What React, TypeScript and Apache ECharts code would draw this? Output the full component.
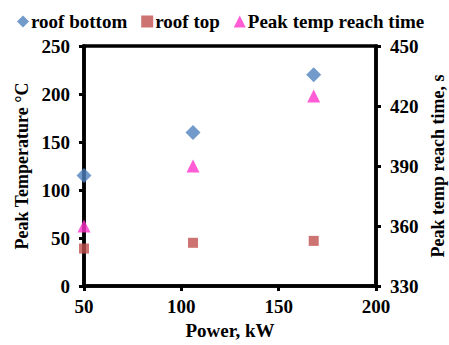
import React, { useEffect, useRef } from "react";
import * as echarts from "echarts";

const power = [50, 106, 168];
const roofBottom = [115, 160, 220];
const roofTop = [39, 45, 47];
const reachTime = [360, 390, 425];

const FONT = "'Liberation Serif', 'Times New Roman', serif";

export default function App() {
  const ref = useRef<HTMLDivElement>(null);
  useEffect(() => {
    const chart = echarts.init(ref.current!, null, { renderer: "svg" });
    const axisLabel = { color: "#000", fontFamily: FONT, fontWeight: "bold", fontSize: 19 };
    const nameStyle = { color: "#000", fontFamily: FONT, fontWeight: "bold", fontSize: 18 };
    const axisLine = { show: true, lineStyle: { color: "#000", width: 3.5 } };
    const axisTick = { show: true, inside: false, length: 5, lineStyle: { color: "#000", width: 3 } };
    chart.setOption({
      animation: false,
      backgroundColor: "#fff",
      grid: {
        left: 84,
        right: 73,
        top: 46,
        bottom: 59,
        outerBoundsMode: "none",
        containLabel: false,
        show: true,
        borderColor: "#000",
        borderWidth: 3.5,
        backgroundColor: "transparent",
      },
      legend: {
        top: 7,
        left: 12,
        itemGap: 14,
        itemWidth: 12,
        itemHeight: 12,
        textStyle: { color: "#000", fontFamily: FONT, fontWeight: "bold", fontSize: 19, padding: [0, 0, 0, -3] },
        data: [
          { name: "roof bottom", icon: "diamond" },
          { name: "roof top", icon: "rect" },
          { name: "Peak temp reach time", icon: "triangle" },
        ],
      },
      xAxis: {
        type: "value",
        min: 50,
        max: 200,
        interval: 50,
        name: "Power, kW",
        nameLocation: "middle",
        nameGap: 31,
        nameTextStyle: { ...nameStyle, fontSize: 19 },
        axisLine,
        axisTick,
        axisLabel: { ...axisLabel, margin: 11 },
        splitLine: { show: false },
      },
      yAxis: [
        {
          type: "value",
          min: 0,
          max: 250,
          interval: 50,
          position: "left",
          name: "Peak Temperature °C",
          nameLocation: "middle",
          nameRotate: 90,
          nameGap: 53,
          nameTextStyle: nameStyle,
          axisLine,
          axisTick,
          axisLabel: { ...axisLabel, margin: 14 },
          splitLine: { show: false },
        },
        {
          type: "value",
          min: 330,
          max: 450,
          interval: 30,
          position: "right",
          name: "Peak temp reach time, s",
          nameLocation: "middle",
          nameRotate: 90,
          nameGap: 52,
          nameTextStyle: nameStyle,
          axisLine,
          axisTick,
          axisLabel: { ...axisLabel, margin: 14 },
          splitLine: { show: false },
        },
      ],
      series: [
        {
          name: "roof bottom",
          type: "scatter",
          symbol: "diamond",
          symbolSize: 15,
          itemStyle: { color: "#4F81BD" },
          data: power.map((p, i) => [p, roofBottom[i]]),
        },
        {
          name: "roof top",
          type: "scatter",
          symbol: "rect",
          symbolSize: 10,
          itemStyle: { color: "#C0504D" },
          data: power.map((p, i) => [p, roofTop[i]]),
        },
        {
          name: "Peak temp reach time",
          type: "scatter",
          yAxisIndex: 1,
          symbol: "triangle",
          symbolSize: 13,
          itemStyle: { color: "#FF33CC" },
          data: power.map((p, i) => [p, reachTime[i]]),
        },
      ],
    });
    return () => chart.dispose();
  }, []);
  return <div ref={ref} style={{ width: 449, height: 345, position: "absolute", left: 0, top: 0 }} />;
}
